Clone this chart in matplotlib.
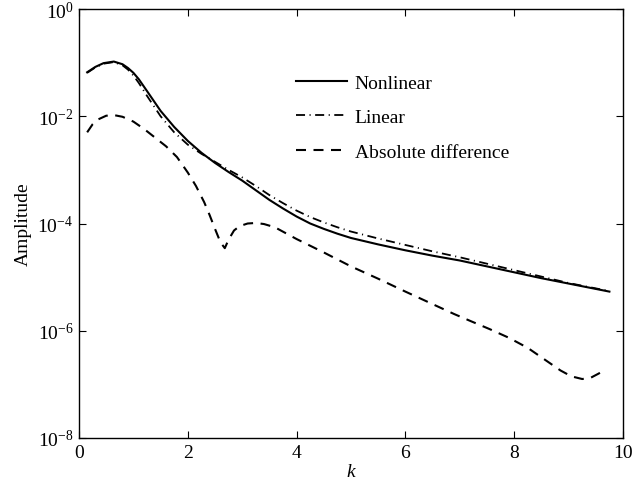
import numpy as np
import matplotlib as mpl
mpl.use('Agg')
import matplotlib.pyplot as plt
from matplotlib.ticker import FixedLocator, NullLocator

plt.rcParams['font.family'] = ['Liberation Serif', 'DejaVu Serif']
plt.rcParams['mathtext.fontset'] = 'custom'
plt.rcParams['mathtext.rm'] = 'Liberation Serif'
plt.rcParams['mathtext.it'] = 'Liberation Serif:italic'
plt.rcParams['font.size'] = 14

# Nonlinear amplitude (log10 values)
k_nl = [0.15, 0.3, 0.45, 0.64, 0.8, 0.9, 1.0, 1.1, 1.25, 1.5, 1.75, 2.0, 2.25, 2.5, 2.75,
        3.0, 3.25, 3.5, 3.75, 4.0, 4.25, 4.5, 4.75, 5.0, 5.5, 6.0, 6.5, 7.0, 7.5, 8.0, 8.5,
        9.0, 9.5, 9.75]
log_nl = [-1.18, -1.08, -1.01, -0.98, -1.03, -1.10, -1.19, -1.31, -1.53, -1.90, -2.20, -2.46,
          -2.68, -2.87, -3.04, -3.20, -3.38, -3.56, -3.72, -3.87, -4.00, -4.10, -4.19, -4.27,
          -4.39, -4.50, -4.60, -4.69, -4.80, -4.91, -5.02, -5.12, -5.22, -5.27]

# Linear amplitude
k_lin = k_nl
log_lin = [-1.19, -1.09, -1.02, -0.99, -1.05, -1.13, -1.24, -1.38, -1.62, -2.00, -2.30, -2.53,
           -2.70, -2.85, -3.00, -3.14, -3.30, -3.47, -3.62, -3.76, -3.88, -3.98, -4.07, -4.15,
           -4.28, -4.40, -4.52, -4.63, -4.75, -4.87, -4.99, -5.11, -5.21, -5.26]

# Absolute difference
k_diff = [0.15, 0.25, 0.35, 0.5, 0.65, 0.8, 1.0, 1.2, 1.4, 1.6, 1.8, 2.0, 2.15, 2.3, 2.4, 2.5,
          2.6, 2.68, 2.75, 2.85, 2.95, 3.1, 3.25, 3.4, 3.6, 3.8, 4.0, 4.5, 5.0, 5.5, 6.0, 6.3,
          6.6, 6.9, 7.2, 7.55, 7.9, 8.25, 8.55, 8.85, 9.05, 9.25, 9.4, 9.55, 9.65]
log_diff = [-2.30, -2.15, -2.06, -1.99, -1.98, -2.01, -2.10, -2.24, -2.40, -2.56, -2.76, -3.05,
            -3.30, -3.60, -3.84, -4.10, -4.35, -4.46, -4.30, -4.13, -4.05, -4.00, -3.99, -4.01,
            -4.07, -4.18, -4.29, -4.54, -4.80, -5.03, -5.27, -5.41, -5.55, -5.69, -5.82, -5.97,
            -6.13, -6.32, -6.53, -6.74, -6.85, -6.90, -6.88, -6.80, -6.74]

xticks = [0, 2, 4, 6, 8, 10]
yticks = [1e0, 1e-2, 1e-4, 1e-6, 1e-8]

fig = plt.figure(figsize=(6.33, 4.89), dpi=100)
ax = fig.add_axes([79 / 633, 1 - 439 / 489, 544 / 633, 429 / 489])

ax.plot(k_nl, 10 ** np.array(log_nl), color='k', lw=1.5, label='Nonlinear')
ax.plot(k_lin, 10 ** np.array(log_lin), color='k', lw=1.3,
        linestyle=(0, (5, 2.5, 0.6, 2.5)), label='Linear')
ax.plot(k_diff, 10 ** np.array(log_diff), color='k', lw=1.5,
        linestyle=(0, (4.8, 3.6)), label='Absolute difference')

ax.set_yscale('log')
ax.set_xlim(0, 10)
ax.set_ylim(1e-8, 1e0)
ax.xaxis.set_major_locator(FixedLocator(xticks))
ax.yaxis.set_major_locator(FixedLocator(yticks))
ax.yaxis.set_minor_locator(NullLocator())
ax.tick_params(direction='in', length=5, width=0.8, top=True, right=True, pad=4)
for s in ax.spines.values():
    s.set_linewidth(1.0)

ax.set_xlabel('$k$', labelpad=2)
ax.set_ylabel('Amplitude', labelpad=4)

ax.legend(loc='upper left', bbox_to_anchor=(0.385, 0.866), frameon=False,
          handlelength=2.6, handletextpad=0.4, labelspacing=0.86, borderaxespad=0)

fig.savefig('out.png', dpi=100)
